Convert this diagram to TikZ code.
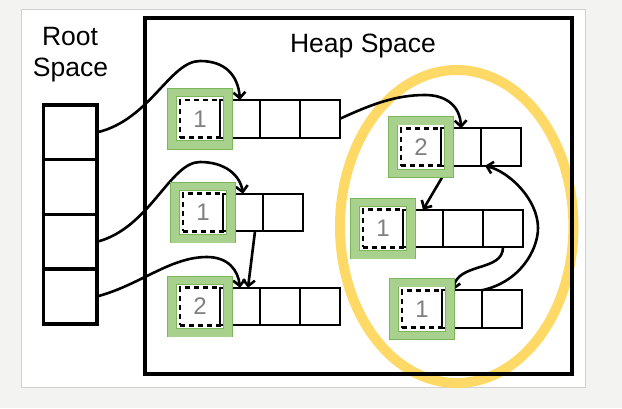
\documentclass[tikz,border=0pt]{standalone}
\usepackage{fontspec}
\setmainfont{Liberation Sans}
\usetikzlibrary{arrows.meta}
\usetikzlibrary{positioning}

\definecolor{slidebg}{HTML}{F3F3F1}
\definecolor{slideedge}{HTML}{D0D0D0}
\definecolor{rcgreen}{HTML}{A9D18E}
\definecolor{rcgreenedge}{HTML}{7DB55C}
\definecolor{cycleyellow}{HTML}{FFD966}
\definecolor{countgray}{HTML}{808080}

\begin{document}
\begin{tikzpicture}[x=1pt, y=-1pt,
    rootcell/.style={draw, line width=3.5pt, minimum width=53.7pt, minimum height=54.7pt, inner sep=0pt, outer sep=0pt},
    field/.style={draw, line width=2pt, minimum width=40pt, minimum height=37.5pt, inner sep=0pt, outer sep=0pt},
    header/.style={field, line width=2.8pt, dash pattern=on 5pt off 4pt, text=countgray, font=\fontsize{24}{24}\selectfont},
    rcframe/.style={draw=rcgreenedge, double=rcgreen, double distance=7.5pt, line width=0.8pt, minimum width=56pt, minimum height=52.5pt, inner sep=0pt},
    ref/.style={line width=2.6pt, -{Straight Barb[length=6pt, width=12pt]}},
    title/.style={font=\fontsize{26.5}{31}\selectfont, inner sep=0pt}
  ]
  % Slide
  \useasboundingbox (0, 0) rectangle (622, 408);
  \fill[slidebg] (0, 0) rectangle (622, 408);
  \draw[slideedge, fill=white, line width=1pt] (21, 9) rectangle (585, 387.5);

  % Garbage cycle
  \draw[cycleyellow, line width=10pt] (456.7, 226.5) ellipse [x radius=116.7pt, y radius=156.5pt];

  % Root space
  \node[title, anchor=base] (rootlbl) at (70, 45) {Root};
  \node[title, anchor=base] (rootlbl2) at (70.5, 76) {Space};
  \node[rootcell] (r1) at (70.2, 132.35) {};
  \node[rootcell, below=0pt of r1] (r2) {};
  \node[rootcell, below=0pt of r2] (r3) {};
  \node[rootcell, below=0pt of r3] (r4) {};

  % Heap space
  \node[draw, line width=4pt, minimum width=427.5pt, minimum height=356pt, inner sep=0pt] (heap) at (358.25, 196) {};
  \node[title, anchor=base] (heaplbl) at (363, 52) {Heap Space};

  % Object A (top left)
  \node[header] (a0) at (200, 118.75) {1};
  \node[field, right=0pt of a0] (a1) {};
  \node[field, right=0pt of a1] (a2) {};
  \node[field, right=0pt of a2] (a3) {};

  % Object B (middle left)
  \node[header] (b0) at (203, 212.5) {1};
  \node[field, right=0pt of b0] (b1) {};
  \node[field, right=0pt of b1] (b2) {};

  % Object C (bottom left)
  \node[header] (c0) at (200, 306.5) {2};
  \node[field, right=0pt of c0] (c1) {};
  \node[field, right=0pt of c1] (c2) {};
  \node[field, right=0pt of c2] (c3) {};

  % Object D (top right)
  \node[header] (d0) at (421, 147) {2};
  \node[field, right=0pt of d0] (d1) {};
  \node[field, right=0pt of d1] (d2) {};

  % Object E (middle right)
  \node[header] (e0) at (383, 228.5) {1};
  \node[field, right=0pt of e0] (e1) {};
  \node[field, right=0pt of e1] (e2) {};
  \node[field, right=0pt of e2] (e3) {};

  % Object F (bottom right)
  \node[header] (f0) at (422, 309) {1};
  \node[field, right=0pt of f0] (f1) {};
  \node[field, right=0pt of f1] (f2) {};

  % References
  \draw[ref] (r1.east) .. controls (150, 120) and (170, 61) .. (200, 61) .. controls (225, 61) and (238, 75) .. (a1.north); % Root 1 to A
  \draw[ref] (r3.east) .. controls (150, 228) and (170, 162) .. (200, 162) .. controls (225, 162) and (240, 175) .. (b1.north); % Root 3 to B
  \draw[ref] (r4.east) .. controls (140, 285) and (170, 257) .. (207, 257) .. controls (228, 257) and (238, 270) .. (c1.north); % Root 4 to C
  \draw[ref] ([xshift=-8pt]b1.south east) -- ([xshift=8pt]c1.north); % B to C
  \draw[ref] (a3.east) .. controls (370, 105) and (395, 95) .. (425, 95) .. controls (445, 95) and (460, 105) .. (d1.north); % A to D
  \draw[ref] ([xshift=8pt]d1.south west) -- (e1.north); % D to E
  \draw[ref] (e3.south) .. controls (503, 272) and (458, 262) .. ([xshift=-9pt]f1.north); % E to F
  \draw[ref] (f2.north west) .. controls (520, 282) and (538, 250) .. (538, 228) .. controls (538, 200) and (510, 172) .. ([xshift=4pt]d2.south west); % F to D

  % Reference counts
  \node[rcframe] (ga) at (a0) {};
  \node[rcframe] (gb) at (b0) {};
  \node[rcframe] (gc) at (c0) {};
  \node[rcframe] (gd) at (d0) {};
  \node[rcframe] (ge) at (e0) {};
  \node[rcframe] (gf) at (f0) {};
\end{tikzpicture}
\end{document}
